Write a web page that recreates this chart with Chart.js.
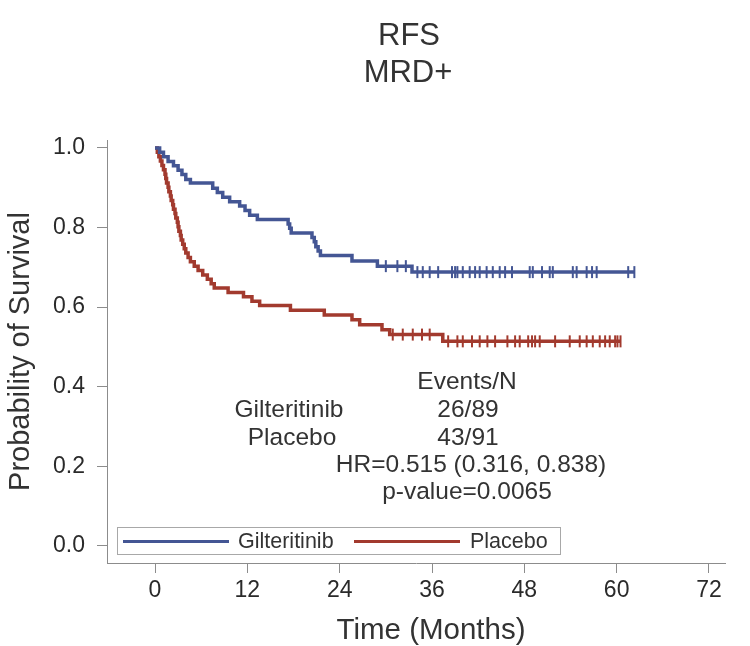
<!DOCTYPE html>
<html>
<head>
<meta charset="utf-8">
<script src="https://cdn.jsdelivr.net/npm/chart.js@4.4.1/dist/chart.umd.min.js"></script>
<style>
  body { margin: 0; background: #fff; }
  #wrap { position: relative; width: 750px; height: 646px; font-family: "Liberation Sans", Arial, sans-serif; color: #333; }
  .txt { position: absolute; white-space: nowrap; transform: translate(-50%, -50%); }
  .big { font-size: 31px; }
  .note { font-size: 24.5px; }
  #legend { position: absolute; left: 117px; top: 527px; width: 444px; height: 28px; border: 1px solid #a8a8a8; box-sizing: border-box; }
  .swatch { position: absolute; top: 12px; height: 3px; width: 106px; }
  .lab { position: absolute; top: 1px; font-size: 21.5px; }
</style>
</head>
<body>
<div id="wrap">
  <canvas id="km" width="750" height="646"></canvas>
  <div class="txt big" style="left:409px; top:35px;">RFS</div>
  <div class="txt big" style="left:408px; top:72px;">MRD+</div>
  <div class="txt" style="left:431px; top:629px; font-size:29.5px;">Time (Months)</div>

  <div class="txt note" style="left:467px; top:381px;">Events/N</div>
  <div class="txt note" style="left:289px; top:409px;">Gilteritinib</div>
  <div class="txt note" style="left:468px; top:409px;">26/89</div>
  <div class="txt note" style="left:292px; top:437px;">Placebo</div>
  <div class="txt note" style="left:468px; top:437px;">43/91</div>
  <div class="txt note" style="left:471px; top:464px;">HR=0.515 (0.316, 0.838)</div>
  <div class="txt note" style="left:467px; top:491px;">p-value=0.0065</div>

  <div id="legend">
    <div class="swatch" style="left:5px; background:#445694;"></div>
    <div class="lab" style="left:120px;">Gilteritinib</div>
    <div class="swatch" style="left:236px; background:#A23A2E;"></div>
    <div class="lab" style="left:352px;">Placebo</div>
  </div>
</div>

<script>
// Kaplan-Meier steps: event times (months) and survival after each event
const gilTime = [0, 0.6, 1.1, 1.7, 2.4, 3.0, 3.5, 4.0, 4.6, 7.5, 8.1, 8.8, 9.7, 11.0, 11.7, 12.3, 13.3,
  17.3, 17.5, 17.7, 20.4, 20.7, 20.9, 21.2, 21.5, 25.6, 28.9, 33.4];
const gilSurv = [1.000, 0.989, 0.978, 0.966, 0.955, 0.944, 0.933, 0.921, 0.912, 0.899, 0.888, 0.876, 0.865,
  0.854, 0.843, 0.831, 0.820, 0.809, 0.798, 0.786, 0.775, 0.764, 0.752, 0.741, 0.730, 0.716, 0.703, 0.688];

const plaTime = [0, 0.3, 0.5, 0.7, 0.9, 1.1, 1.3, 1.4, 1.5, 1.7, 1.8, 2.0, 2.1, 2.3, 2.4, 2.6, 2.7, 2.9,
  3.0, 3.1, 3.3, 3.4, 3.6, 3.8, 4.0, 4.3, 4.6, 5.1, 5.6, 6.2, 6.8, 7.3, 7.7, 9.5, 11.5, 12.6, 13.6,
  17.6, 22.0, 25.6, 26.6, 29.5, 30.5, 37.4];
const plaSurv = [1.000, 0.989, 0.978, 0.967, 0.956, 0.945, 0.934, 0.923, 0.912, 0.901, 0.890, 0.879,
  0.868, 0.857, 0.846, 0.835, 0.824, 0.813, 0.802, 0.791, 0.780, 0.769, 0.758, 0.747, 0.736, 0.725,
  0.714, 0.703, 0.692, 0.681, 0.670, 0.659, 0.648, 0.637, 0.626, 0.615, 0.604, 0.592, 0.580, 0.568,
  0.556, 0.543, 0.531, 0.514];

// censored observations (months)
const gilCensor = [30.0, 31.5, 32.6, 34.1, 34.8, 35.7, 36.8, 38.6, 39.0, 39.3, 40.0, 40.9, 41.6, 42.2,
  43.1, 43.9, 44.8, 45.5, 46.4, 48.7, 49.1, 50.3, 51.3, 51.7, 54.3, 54.8, 56.1, 56.8, 57.4, 61.5, 62.3];
const plaCensor = [30.9, 32.2, 33.5, 34.7, 35.7, 38.1, 39.3, 40.0, 41.2, 42.2, 43.2, 44.2, 45.8, 46.8,
  47.4, 48.5, 49.0, 49.4, 50.0, 52.0, 53.9, 55.2, 56.1, 56.9, 57.8, 58.5, 59.1, 59.8, 60.1, 60.5];

const xTicks = [0, 12, 24, 36, 48, 60, 72];
const yTicks = [0.0, 0.2, 0.4, 0.6, 0.8, 1.0];

const BLUE = '#445694';
const RED = '#A23A2E';
const FONT = '"Liberation Sans", Arial, sans-serif';

function survAt(times, surv, t) {
  let s = surv[0];
  for (let i = 0; i < times.length; i++) {
    if (times[i] <= t) s = surv[i];
  }
  return s;
}

function curve(times, surv, censor) {
  const pts = times.map((t, i) => ({ x: t, y: surv[i] }));
  const last = Math.max(...censor);
  pts.push({ x: last, y: survAt(times, surv, last) });
  return pts;
}

function marks(times, surv, censor) {
  return censor.map(t => ({ x: t, y: survAt(times, surv, t) }));
}

const lineStyle = { showLine: true, stepped: 'before', borderWidth: 3.5, pointRadius: 0, fill: false };
const markStyle = { showLine: false, pointStyle: 'line', rotation: 90, pointRadius: 6, borderWidth: 2 };

new Chart(document.getElementById('km'), {
  type: 'scatter',
  data: {
    datasets: [
      { label: 'Gilteritinib', data: curve(gilTime, gilSurv, gilCensor), borderColor: BLUE, ...lineStyle },
      { label: 'Placebo', data: curve(plaTime, plaSurv, plaCensor), borderColor: RED, ...lineStyle },
      { label: 'Gilteritinib censored', data: marks(gilTime, gilSurv, gilCensor), borderColor: BLUE, ...markStyle },
      { label: 'Placebo censored', data: marks(plaTime, plaSurv, plaCensor), borderColor: RED, ...markStyle }
    ]
  },
  options: {
    responsive: false,
    animation: false,
    layout: { padding: { top: 140, right: 25, left: 0, bottom: 0 } },
    plugins: { legend: { display: false }, tooltip: { enabled: false }, title: { display: false } },
    scales: {
      x: {
        type: 'linear',
        min: -6.24,
        max: 74.08,
        afterBuildTicks: s => { s.ticks = xTicks.map(v => ({ value: v })); },
        afterFit: s => { s.height = 83; },
        grid: { drawOnChartArea: false, tickLength: 10, color: '#8c8c8c' },
        border: { color: '#8c8c8c' },
        ticks: { font: { family: FONT, size: 23 }, color: '#2a2a2a', padding: 4 }
      },
      y: {
        min: -0.043,
        max: 1.02,
        afterBuildTicks: s => { s.ticks = yTicks.map(v => ({ value: v })); },
        afterFit: s => { s.width = 107; },
        grid: { drawOnChartArea: false, tickLength: 10, color: '#8c8c8c' },
        border: { color: '#8c8c8c' },
        ticks: { font: { family: FONT, size: 23 }, color: '#2a2a2a', padding: 12, callback: v => v.toFixed(1) },
        title: { display: true, text: 'Probability of Survival', font: { family: FONT, size: 29 }, color: '#333', padding: { top: 4 } }
      }
    }
  }
});
</script>
</body>
</html>
